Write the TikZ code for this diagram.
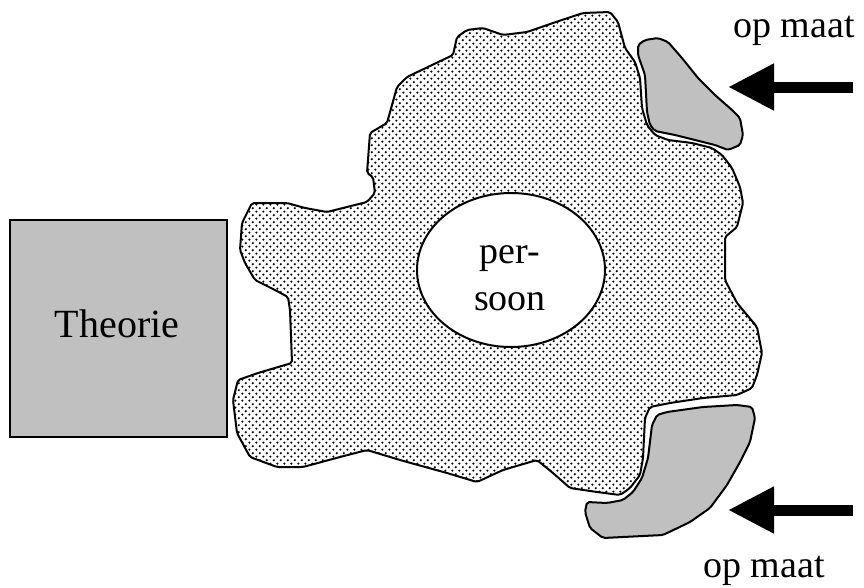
\documentclass[tikz,border=0pt]{standalone}
\usepackage{fontspec}
\setmainfont{Liberation Serif}
\usetikzlibrary{arrows.meta,shapes.geometric,patterns}
\definecolor{shade}{HTML}{C0C0C0}
\pgfdeclarepatternformonly{blobdots}{\pgfqpoint{-1.5pt}{-1.5pt}}{\pgfqpoint{5.9pt}{5.9pt}}{\pgfqpoint{7.4pt}{7.4pt}}{%
  \pgfpathcircle{\pgfqpoint{0pt}{0pt}}{1.3pt}%
  \pgfpathcircle{\pgfqpoint{3.7pt}{3.7pt}}{1.3pt}%
  \pgfusepath{fill}}
\tikzset{
  outline/.style={draw=black, line width=2pt, rounded corners=2pt, line join=round},
  grayshape/.style={outline, fill=shade},
  bigarrow/.style={line width=11pt, -{Triangle[length=46pt, width=44pt]}},
  lbl/.style={font=\fontsize{38}{40}\selectfont, inner sep=0pt, anchor=base},
}
\begin{document}
\begin{tikzpicture}[x=1pt,y=-1pt]
\useasboundingbox (0,0) rectangle (864,587);
% blob
\path[outline, fill=white, postaction={pattern=blobdots}]
 (252,203) -- (287,203) -- (305,208) -- (327,212) -- (367,202) -- (375,193) -- (373,177) -- (367,173)
 -- (370,133) -- (387,123) -- (397,87) -- (407,77) -- (453,55) -- (457,37) -- (467,30) -- (483,28)
 -- (503,35) -- (527,32) -- (553,23) -- (583,13) -- (610,12) -- (618,22) -- (625,48) -- (635,62)
 -- (640,78) -- (642,108) -- (647,125) -- (655,135) -- (668,140) -- (692,143) -- (712,148) -- (722,155)
 -- (732,168) -- (740,187) -- (743,203) -- (737,227) -- (725,237) -- (725,280) -- (737,303) -- (757,327)
 -- (762,353) -- (757,375) -- (752,388) -- (737,395) -- (703,398) -- (670,403) -- (650,407) -- (645,418)
 -- (643,458) -- (640,475) -- (630,488) -- (620,495) -- (597,492) -- (570,488) -- (553,473) -- (537,460)
 -- (503,470) -- (477,482) -- (447,473) -- (400,460) -- (367,450) -- (340,457) -- (303,467) -- (277,467)
 -- (250,457) -- (237,433) -- (233,400) -- (238,380) -- (258,373) -- (285,365) -- (292,363) -- (290,310)
 -- (288,297) -- (275,290) -- (255,280) -- (245,263) -- (240,250) -- (242,223) -- cycle;
% upper gray shape
\path[grayshape]
 (638,45) -- (645,40) -- (658,38) -- (668,42) -- (682,58) -- (698,78) -- (715,95) -- (732,110)
 -- (740,118) -- (743,135) -- (740,145) -- (728,150) -- (715,145) -- (695,140) -- (675,135) -- (655,131)
 -- (650,125) -- (647,112) -- (645,75) -- (638,55) -- cycle;
% lower gray shape
\path[grayshape]
 (657,415) -- (667,412) -- (703,407) -- (737,405) -- (752,407) -- (755,418) -- (750,442) -- (740,462)
 -- (727,485) -- (710,508) -- (690,522) -- (663,535) -- (603,538) -- (590,528) -- (585,512) -- (587,502)
 -- (607,503) -- (623,500) -- (633,492) -- (642,478) -- (648,458) -- (652,425) -- cycle;
% theory box
\node[draw=black, line width=2pt, fill=shade, minimum width=217pt, minimum height=217pt, inner sep=0pt]
  (box) at (118.5,328.5) {};
\node[lbl, font=\fontsize{40}{42}\selectfont] (theorie) at (117,337) {Theorie};
% person ellipse
\node[ellipse, draw=black, line width=2pt, fill=white, minimum width=188pt, minimum height=154pt, inner sep=0pt]
  (persoon) at (511,270) {};
\node[lbl] (per) at (510,263) {per-};
\node[lbl] (soon) at (510,310) {soon};
% labels
\node[lbl] (opmaat1) at (794,37) {op maat};
\node[lbl] (opmaat2) at (764,577) {op maat};
% arrows
\coordinate (a1s) at (853,87);
\coordinate (a1t) at (728,87);
\coordinate (a2s) at (853,510);
\coordinate (a2t) at (728,510);
\draw[bigarrow] (a1s) -- (a1t);
\draw[bigarrow] (a2s) -- (a2t);
\end{tikzpicture}
\end{document}
